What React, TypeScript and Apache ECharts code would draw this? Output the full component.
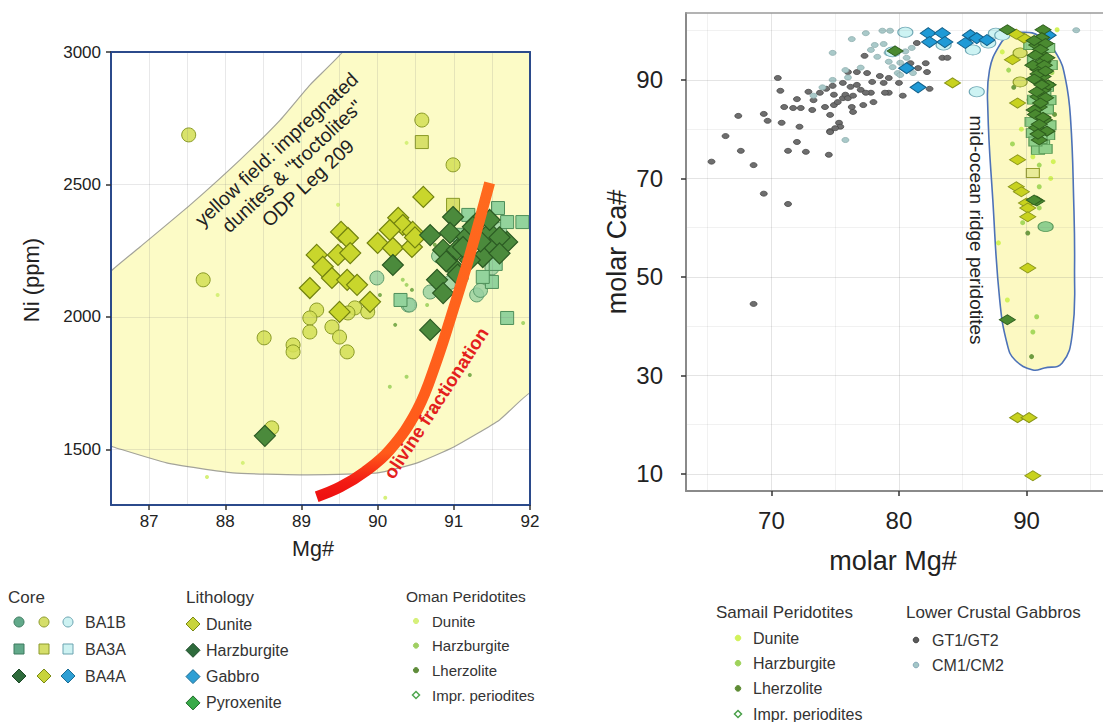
import React, { useEffect, useRef } from 'react';
import * as echarts from 'echarts';

// ---------------- LEFT PANEL DATA (Mg# vs Ni ppm) ----------------
const L_X_TICKS = [87, 88, 89, 90, 91, 92];
const L_Y_TICKS = [1500, 2000, 2500, 3000];
const L_X_GRID = [87, 87.5, 88, 88.5, 89, 89.5, 90, 90.5, 91, 91.5];
const L_Y_GRID = [1500, 2000, 2500];

// yellow field (impregnated dunites & troctolites, ODP Leg 209)
const L_FIELD = [
  [86.3, 2100], [86.5, 2173], [86.88, 2264], [87.54, 2423], [88.19, 2592], [88.72, 2743], [89.11, 2875],
  [89.54, 3000], [89.6, 3060], [92.2, 3060], [92.2, 1680], [92.0, 1713], [91.6, 1611], [91.0, 1509],
  [90.52, 1449], [90.0, 1411], [88.98, 1404], [88.1, 1411], [87.23, 1449], [86.53, 1509], [86.3, 1530],
];

// olivine fractionation curve
const OL_X = [89.2, 89.51, 89.83, 90.16, 90.52, 90.78, 90.99, 91.21, 91.47];
const OL_Y = [1321, 1358, 1415, 1498, 1649, 1838, 2026, 2234, 2506];

// BA4A diamonds
const L_DUNITE_DIAMOND = [
  [89.52, 2321], [89.61, 2298], [89.2, 2234], [89.48, 2234], [89.64, 2241], [89.28, 2189], [89.4, 2147],
  [89.6, 2140], [89.73, 2121], [89.11, 2109], [89.5, 2019], [89.9, 2057], [90.0, 2279], [90.2, 2260],
  [90.27, 2374], [90.33, 2347], [90.16, 2328], [90.46, 2321], [90.45, 2264], [90.6, 2453], [90.49, 2300],
];
const L_HARZ_DIAMOND = [
  [90.2, 2196], [90.69, 2309], [90.99, 2377], [90.95, 2317], [90.86, 2253], [91.04, 2253], [91.17, 2302],
  [90.99, 2189], [90.78, 2140], [90.86, 2090], [90.69, 1951], [91.47, 2317], [91.7, 2283], [91.51, 2264],
  [91.38, 2226], [91.21, 2215], [91.12, 2264], [91.3, 2355], [91.47, 2366], [88.52, 1551], [91.6, 2300],
  [91.25, 2340], [90.9, 2210], [91.6, 2240], [91.05, 2160], [91.35, 2285],
];
// BA1B circles
const L_DUNITE_CIRCLE = [
  [87.52, 2687], [87.71, 2140], [88.51, 1921], [88.89, 1894], [88.89, 1868], [88.61, 1581], [90.58, 2743],
  [90.99, 2574], [89.2, 2026], [89.11, 1996], [89.11, 1943], [89.4, 1962], [89.5, 1924], [89.6, 1868],
  [89.7, 2034], [89.61, 2015], [89.87, 2019],
];
const L_HARZ_CIRCLE = [
  [89.99, 2147], [90.4, 2045], [91.3, 2083], [90.69, 2094], [91.5, 2185], [90.42, 2045], [91.1, 2150],
  [90.95, 2130], [91.35, 2100], [91.6, 2330], [90.8, 2230],
];
// BA3A squares
const L_DUNITE_SQUARE = [[90.58, 2660], [90.99, 2423]];
const L_HARZ_SQUARE = [
  [91.58, 2411], [91.7, 2358], [91.9, 2358], [91.19, 2385], [91.5, 2132], [91.38, 2151], [91.7, 1996],
  [90.3, 2064], [91.05, 2310], [91.35, 2290], [91.55, 2200],
];
// Oman peridotites (small dots)
const L_OMAN_DUN = [[87.9, 2083], [88.23, 1449], [87.76, 1396], [90.38, 2657], [89.48, 2423], [90.1, 1317]];
const L_OMAN_HZ = [[90.16, 1736], [90.38, 1774], [90.73, 1649], [90.33, 2140], [90.38, 2121], [90.65, 2045], [91.91, 1977]];
const L_OMAN_LHZ = [[91.21, 1781], [90.03, 2083], [90.23, 1970], [90.45, 2102], [90.75, 2272]];

// ---------------- RIGHT PANEL DATA (molar Mg# vs molar Ca#) ----------------
const R_X_TICKS = [70, 80, 90];
const R_Y_TICKS = [10, 30, 50, 70, 90];
const R_X_GRID_MAJOR = [70, 80, 90];
const R_X_GRID_MINOR = [65, 75, 85, 95];
const R_Y_GRID_MAJOR = [10, 30, 50, 70, 90];
const R_Y_GRID_MINOR = [20, 40, 60, 80, 100];

const R_FIELD = [
  [89.7, 99.7], [91.0, 98.9], [92.4, 95.1], [93.07, 90.0], [93.46, 81.9], [93.7, 65.6], [93.77, 52.0],
  [93.6, 38.6], [92.8, 32.5], [91.4, 31.5], [90.5, 31.1], [89.1, 33.1], [88.5, 36.2], [87.9, 45.3],
  [87.36, 65.6], [86.97, 83.9], [87.1, 92.0], [87.9, 97.1], [88.7, 99.1],
];

const R_GT = [
  [70.5, 90.4], [70.7, 87.8], [67.4, 82.7], [66.4, 78.6], [65.3, 73.4], [67.6, 75.6], [68.6, 72.7], [69.4, 83.1],
  [69.7, 81.7], [69.4, 66.9], [71.3, 64.8], [71.3, 75.6], [72.7, 75.4], [70.8, 81.3], [72.2, 80.5], [71.0, 84.5],
  [71.7, 84.3], [72.3, 84.3], [72.0, 86.1], [72.9, 87.6], [73.2, 83.9], [72.0, 77.4], [74.5, 74.8], [74.6, 79.6],
  [75.3, 81.3], [74.6, 82.9], [74.2, 84.5], [74.9, 84.9], [73.8, 87.4], [74.3, 88.2], [74.8, 88.8], [75.6, 86.3],
  [75.2, 85.5], [75.8, 87.0], [76.0, 86.3], [76.3, 84.5], [76.4, 83.5], [75.6, 89.4], [76.2, 88.6], [76.7, 89.0],
  [77.0, 88.0], [77.2, 84.9], [78.0, 85.5], [77.8, 87.4], [77.9, 89.6], [78.5, 90.8], [78.8, 89.4], [79.2, 90.4],
  [79.2, 87.4], [80.0, 89.4], [80.3, 86.8], [77.3, 94.9], [74.6, 79.4], [75.4, 80.5], [76.4, 86.8], [76.7, 91.6],
  [76.0, 91.6], [77.5, 91.4], [73.3, 85.9], [74.9, 87.0], [81.4, 97.5], [82.2, 91.6], [82.4, 88.2], [83.4, 94.5],
  [83.8, 94.5], [81.5, 92.4], [80.9, 93.4], [82.1, 93.4], [78.9, 87.4], [77.4, 87.4], [68.6, 44.5], [75.0, 80.2],
];
const R_CM = [
  [74.8, 95.5], [76.3, 98.3], [77.4, 99.5], [78.7, 100], [79.3, 100], [77.8, 96.1], [78.1, 97.1], [78.8, 97.3],
  [75.8, 92.0], [74.8, 90.0], [73.3, 86.8], [75.8, 77.8], [79.2, 93.7], [78.3, 94.7], [79.5, 92.6], [79.9, 91.4],
  [80.1, 93.5], [79.1, 95.5], [80.6, 94.5], [80.1, 91.0], [81.1, 91.4], [93.9, 100.1], [76.0, 90.5], [77.0, 92.5],
  [74.0, 88.5], [80.5, 95.8], [81.0, 96.5],
];
const R_BLUE_DIAMOND = [
  [82.3, 99.5], [83.4, 99.5], [82.4, 97.7], [83.6, 97.7], [80.6, 92.4], [81.5, 88.5], [85.6, 99.1], [86.1, 98.5],
  [86.9, 98.1], [91.7, 99.1], [85.2, 97.5],
];
const R_CYAN_CIRCLE = [
  [80.5, 99.7], [79.5, 95.7], [83.5, 97.1], [85.8, 96.1], [86.1, 87.6], [87.0, 97.5], [87.6, 99.5], [88.1, 99.1],
];
const R_YELLOW_CIRCLE = [[89.5, 89.6], [89.5, 95.5]];
const R_YELLOW_SQUARE = [[90.5, 71.1]];
const R_GREEN_CIRCLE = [[91.5, 60.2]];
const R_YELLOW_DIAMOND = [
  [84.2, 89.4], [88.9, 94.1], [89.3, 85.3], [89.3, 73.8], [89.2, 68.3], [89.6, 67.3], [90.0, 65.0], [90.1, 64.0],
  [90.1, 62.2], [90.1, 51.8], [89.3, 21.4], [90.2, 21.4], [90.5, 9.6], [89.8, 98.5], [89.2, 99.3],
];
const R_DARK_DIAMOND = [
  [79.7, 95.9], [88.5, 100.2], [91.3, 100.2], [90.8, 65.4], [88.5, 41.3], [90.6, 65.6],
  [90.8, 97.1], [91.0, 95.5], [91.3, 93.7], [90.9, 92.1], [91.3, 90.7], [91.0, 89.6], [91.3, 88.0], [90.9, 86.6],
  [91.0, 84.5], [90.8, 80.3], [91.0, 77.8], [91.6, 94.5], [90.5, 93.0], [91.7, 89.0], [90.6, 83.9], [91.4, 81.9],
  [91.2, 98.6], [90.6, 98.0], [91.5, 97.4], [91.1, 96.2], [90.7, 95.0], [91.4, 93.0], [90.9, 91.2], [91.5, 91.8],
  [90.6, 90.2], [91.2, 89.0], [90.8, 87.6], [91.5, 86.4], [91.1, 85.3], [90.7, 83.0], [91.3, 82.4], [91.0, 81.0],
  [91.6, 79.6], [90.9, 79.0],
];
const R_GREEN_SQUARE = [
  [90.8, 83.3], [91.0, 81.9], [91.3, 80.5], [90.5, 79.2], [91.3, 76.8], [91.2, 85.5], [91.4, 87.4], [90.9, 75.8],
  [91.7, 78.8], [91.8, 85.9], [90.6, 94.1], [90.3, 97.1], [91.6, 88.6], [90.6, 86.0], [91.6, 84.0], [90.4, 81.5],
  [91.8, 80.8], [91.1, 78.0], [91.5, 76.0], [90.7, 77.5], [91.9, 93.0], [91.7, 96.5],
];
const R_SAMAIL_DUN = [[90.5, 74.4], [92.1, 73.4], [87.8, 56.9], [88.5, 45.3], [92.4, 100.2], [88.1, 95.7], [89.6, 80.0], [91.9, 70.0]];
const R_SAMAIL_HZ = [[91.0, 72.7], [91.0, 68.3], [89.7, 61.0], [90.8, 41.9], [90.5, 38.8], [91.0, 64.0], [88.6, 92.0], [92.0, 91.5], [88.9, 77.0]];
const R_SAMAIL_LHZ = [[90.4, 33.8], [90.1, 58.9], [89.0, 88.5], [91.8, 96.0], [90.2, 86.0], [92.2, 83.0]];

const FONT = '"Liberation Sans", Arial, Helvetica, sans-serif';

function gridLines(x: number[], y: number[], color: string, xi: number, yi: number, z: number) {
  return {
    type: 'scatter', xAxisIndex: xi, yAxisIndex: yi, data: [], z, silent: true,
    markLine: {
      silent: true, symbol: ['none', 'none'], label: { show: false },
      lineStyle: { color, width: 1, type: 'solid' },
      emphasis: { disabled: true },
      data: [...x.map((v) => ({ xAxis: v })), ...y.map((v) => ({ yAxis: v }))],
    },
  };
}

function sc(data: number[][], symbol: string, size: any, fill: string, stroke: string, xi: number, z: number, lw = 1) {
  return {
    type: 'scatter', xAxisIndex: xi, yAxisIndex: xi, data, symbol, symbolSize: size, z,
    itemStyle: { color: fill, borderColor: stroke, borderWidth: lw, opacity: 1 },
    silent: true,
  };
}

function diamondPts(cx: number, cy: number, w: number, h: number) {
  return [[cx, cy - h / 2], [cx + w / 2, cy], [cx, cy + h / 2], [cx - w / 2, cy]];
}

function legendGraphics() {
  const g: any[] = [];
  const txt = (x: number, y: number, t: string, size: number) =>
    g.push({ type: 'text', x, y, z: 20, style: { text: t, fill: '#333', fontSize: size, fontFamily: FONT, align: 'left', verticalAlign: 'middle' } });
  const circ = (x: number, y: number, r: number, fill: string, stroke: string) =>
    g.push({ type: 'circle', z: 20, shape: { cx: x, cy: y, r }, style: { fill, stroke, lineWidth: 1 } });
  const sq = (x: number, y: number, s: number, fill: string, stroke: string) =>
    g.push({ type: 'rect', z: 20, shape: { x: x - s / 2, y: y - s / 2, width: s, height: s }, style: { fill, stroke, lineWidth: 1 } });
  const dia = (x: number, y: number, s: number, fill: string, stroke: string, lw = 1) =>
    g.push({ type: 'polygon', z: 20, shape: { points: diamondPts(x, y, s, s) }, style: { fill, stroke, lineWidth: lw } });

  // Core
  txt(8, 597, 'Core', 17);
  const cols = [19, 44, 68];
  const cFill = ['#62a98a', '#d5de6a', '#cdf2f2'];
  const cStroke = ['#3d7a5f', '#8c9a2c', '#6aa3b0'];
  const dFill = ['#2e6b3c', '#c8d43c', '#2e9fd4'];
  const dStroke = ['#1d4a28', '#7a8a14', '#1a6d94'];
  cols.forEach((x, i) => {
    circ(x, 622, 5, cFill[i], cStroke[i]);
    sq(x, 649, 10, cFill[i], cStroke[i]);
    dia(x, 676, 14, dFill[i], dStroke[i]);
  });
  txt(85, 622, 'BA1B', 16);
  txt(85, 649, 'BA3A', 16);
  txt(85, 676, 'BA4A', 16);

  // Lithology
  txt(186, 597, 'Lithology', 17);
  const lith = [['Dunite', '#c8d43c', '#7a8a14'], ['Harzburgite', '#2e6b3c', '#1d4a28'], ['Gabbro', '#2e9fd4', '#1a6d94'], ['Pyroxenite', '#3aab4a', '#1f6a2a']];
  lith.forEach((l, i) => {
    const y = 624 + i * 26.3;
    dia(193, y, 14, l[1], l[2]);
    txt(206, y, l[0], 16);
  });

  // Oman peridotites
  txt(406, 596, 'Oman Peridotites', 15.5);
  const om = [['Dunite', '#d6f07a'], ['Harzburgite', '#9fcf62'], ['Lherzolite', '#5f8c3a']];
  om.forEach((o, i) => {
    const y = 621 + i * 24.6;
    circ(416, y, 2.6, o[1], o[1]);
    txt(432, y, o[0], 15);
  });
  dia(416, 695, 7, '#ffffff', '#4fa64f', 1.5);
  txt(432, 695, 'Impr. periodites', 15);

  // Samail peridotites
  txt(716, 612, 'Samail Peridotites', 17);
  const sm = [['Dunite', '#d2f25a'], ['Harzburgite', '#9ed25a'], ['Lherzolite', '#5e8c34']];
  sm.forEach((o, i) => {
    const y = 638 + i * 25.2;
    circ(738, y, 2.8, o[1], o[1]);
    txt(753, y, o[0], 16);
  });
  dia(738, 714, 7, '#ffffff', '#4aa04a', 1.5);
  txt(753, 714, 'Impr. periodites', 16);

  // Lower crustal gabbros
  txt(906, 612, 'Lower Crustal Gabbros', 17);
  circ(916, 640, 2.8, '#5a5a5a', '#444');
  txt(932, 640, 'GT1/GT2', 16);
  circ(916, 665, 2.8, '#a3c6c6', '#8ab');
  txt(932, 665, 'CM1/CM2', 16);
  return g;
}

function buildOption() {
  const frame = { show: true, onZero: false, lineStyle: { color: '#2b4a8b', width: 2 } };
  const lbl = { color: '#222', fontFamily: FONT, formatter: (v: number) => String(v) };
  return {
    animation: false,
    textStyle: { fontFamily: FONT },
    grid: [
      { left: 111, top: 52, width: 419, height: 453 },
      { left: 686, top: 13, width: 419, height: 478 },
    ],
    xAxis: [
      {
        type: 'value', gridIndex: 0, min: 86.5, max: 92, position: 'bottom', z: 10,
        axisLine: frame,
        axisTick: { show: true, customValues: L_X_TICKS, length: 5, lineStyle: { color: '#333', width: 1.5 } },
        axisLabel: { customValues: L_X_TICKS, fontSize: 17, margin: 8, ...lbl },
        splitLine: { show: false },
      },
      { type: 'value', gridIndex: 0, min: 86.5, max: 92, position: 'top', z: 10, axisLine: frame, axisTick: { show: false }, axisLabel: { show: false }, splitLine: { show: false } },
      {
        type: 'value', gridIndex: 1, min: 63.3, max: 96, position: 'bottom', z: 10,
        axisLine: { show: true, onZero: false, lineStyle: { color: '#8a8a8a', width: 2 } },
        axisTick: { show: true, customValues: R_X_TICKS, length: 5, lineStyle: { color: '#333', width: 1.5 } },
        axisLabel: { customValues: R_X_TICKS, fontSize: 24, margin: 17, ...lbl },
        splitLine: { show: false },
      },
      { type: 'value', gridIndex: 1, min: 63.3, max: 96, position: 'top', z: 10, axisLine: { show: true, onZero: false, lineStyle: { color: '#9a9a9a', width: 1.5 } }, axisTick: { show: false }, axisLabel: { show: false }, splitLine: { show: false } },
    ],
    yAxis: [
      {
        type: 'value', gridIndex: 0, min: 1290, max: 3000, position: 'left', z: 10,
        axisLine: frame,
        axisTick: { show: true, customValues: L_Y_TICKS, length: 5, lineStyle: { color: '#333', width: 1.5 } },
        axisLabel: { customValues: L_Y_TICKS, fontSize: 17, margin: 10, ...lbl },
        splitLine: { show: false },
      },
      { type: 'value', gridIndex: 0, min: 1290, max: 3000, position: 'right', z: 10, axisLine: frame, axisTick: { show: false }, axisLabel: { show: false }, splitLine: { show: false } },
      {
        type: 'value', gridIndex: 1, min: 6.5, max: 103.6, position: 'left', z: 10,
        axisLine: { show: true, onZero: false, lineStyle: { color: '#8a8a8a', width: 2 } },
        axisTick: { show: true, customValues: R_Y_TICKS, length: 5, lineStyle: { color: '#333', width: 1.5 } },
        axisLabel: { customValues: R_Y_TICKS, fontSize: 24, margin: 23, ...lbl },
        splitLine: { show: false },
      },
    ],
    series: [
      // ---- left panel ----
      {
        type: 'custom', xAxisIndex: 0, yAxisIndex: 0, data: [[88, 2000]], z: 1, clip: true, silent: true,
        renderItem: (_p: any, api: any) => ({
          type: 'polygon',
          shape: { points: L_FIELD.map((p) => api.coord(p)), smooth: 0.15 },
          style: { fill: '#fcfbc6', stroke: '#a3a39a', lineWidth: 1.2 },
        }),
      },
      gridLines(L_X_GRID, L_Y_GRID, 'rgba(110,110,120,0.16)', 0, 0, 2),
      sc(L_OMAN_DUN, 'circle', 4, '#d6f07a', '#d6f07a', 0, 3, 0),
      sc(L_OMAN_HZ, 'circle', 4, '#a9d66a', '#a9d66a', 0, 3, 0),
      sc(L_OMAN_LHZ, 'circle', 4, '#7fae50', '#7fae50', 0, 3, 0),
      sc(L_DUNITE_CIRCLE, 'circle', 14, 'rgba(212,223,88,0.88)', '#8a9a26', 0, 4),
      sc(L_HARZ_CIRCLE, 'circle', 14, 'rgba(150,208,160,0.82)', '#5c9a6a', 0, 4),
      sc(L_DUNITE_SQUARE, 'rect', 13, '#d8e06a', '#8a9a26', 0, 4),
      sc(L_HARZ_SQUARE, 'rect', 13, '#93d39c', '#4f8f5a', 0, 4),
      sc(L_DUNITE_DIAMOND, 'diamond', 21, '#c9d62c', '#72820f', 0, 5, 1.2),
      sc(L_HARZ_DIAMOND, 'diamond', 21, '#4b8a3c', '#2b5a23', 0, 5, 1.2),
      {
        type: 'line', xAxisIndex: 0, yAxisIndex: 0, z: 6, silent: true,
        data: OL_X.map((x, i) => [x, OL_Y[i]]), smooth: 0.4, symbol: 'none',
        lineStyle: {
          width: 11, cap: 'butt',
          color: new echarts.graphic.LinearGradient(0, 0, 0, 1, [
            { offset: 0, color: '#ff6a1e' }, { offset: 0.86, color: '#ff5a1a' }, { offset: 0.95, color: '#f31c14' }, { offset: 1, color: '#ee1010' },
          ]),
        },
      },
      // ---- right panel ----
      {
        type: 'custom', xAxisIndex: 2, yAxisIndex: 2, data: [[90, 50]], z: 1, clip: true, silent: true,
        renderItem: (_p: any, api: any) => ({
          type: 'polygon',
          shape: { points: R_FIELD.map((p) => api.coord(p)), smooth: 0.45 },
          style: { fill: '#fcf9c2', stroke: '#4d72b8', lineWidth: 1.6 },
        }),
      },
      gridLines(R_X_GRID_MAJOR, R_Y_GRID_MAJOR, 'rgba(120,120,120,0.2)', 2, 2, 2),
      gridLines(R_X_GRID_MINOR, R_Y_GRID_MINOR, 'rgba(120,120,120,0.1)', 2, 2, 2),
      sc(R_GT, 'circle', [7, 5], '#6e6e6e', '#4a4a4a', 2, 3, 0.8),
      sc(R_CM, 'circle', [7, 5], '#a9c9c9', '#8fb0b0', 2, 3, 0.8),
      sc(R_SAMAIL_DUN, 'circle', 5, '#d2f25a', '#d2f25a', 2, 3, 0),
      sc(R_SAMAIL_HZ, 'circle', 5, '#a6d85e', '#a6d85e', 2, 3, 0),
      sc(R_SAMAIL_LHZ, 'circle', 5, '#6e9c40', '#6e9c40', 2, 3, 0),
      sc(R_CYAN_CIRCLE, 'circle', [15, 10], '#cdf3f3', '#6fa8b5', 2, 4),
      sc(R_YELLOW_CIRCLE, 'circle', [14, 10], '#d9e06a', '#8a9a26', 2, 4),
      sc(R_GREEN_CIRCLE, 'circle', [15, 10], '#8fcf8f', '#5a9a5a', 2, 4),
      sc(R_YELLOW_SQUARE, 'rect', [13, 9], '#e8eb98', '#9aa030', 2, 4),
      sc(R_GREEN_SQUARE, 'rect', [13, 9], '#8fd08a', '#5a9a56', 2, 4),
      sc(R_BLUE_DIAMOND, 'diamond', [16, 11], '#1f9ad6', '#12608a', 2, 5),
      sc(R_YELLOW_DIAMOND, 'diamond', [16, 10], '#c8d21e', '#8a961a', 2, 5),
      sc(R_DARK_DIAMOND, 'diamond', [16, 10], '#4a8a30', '#2e5e1e', 2, 5),
    ],
    graphic: [
      { type: 'text', x: 31, y: 280, rotation: Math.PI / 2, z: 20, style: { text: 'Ni (ppm)', fill: '#222', fontSize: 22, fontFamily: FONT, align: 'center', verticalAlign: 'middle' } },
      { type: 'text', x: 313, y: 549, z: 20, style: { text: 'Mg#', fill: '#222', fontSize: 21.5, fontFamily: FONT, align: 'center', verticalAlign: 'middle' } },
      { type: 'text', x: 617, y: 252, rotation: Math.PI / 2, z: 20, style: { text: 'molar Ca#', fill: '#222', fontSize: 27, fontFamily: FONT, align: 'center', verticalAlign: 'middle' } },
      { type: 'text', x: 893, y: 561, z: 20, style: { text: 'molar Mg#', fill: '#222', fontSize: 27, fontFamily: FONT, align: 'center', verticalAlign: 'middle' } },
      {
        type: 'text', x: 292, y: 166, rotation: (43 * Math.PI) / 180, z: 20,
        style: { text: 'yellow field: impregnated\ndunites & "troctolites"\nODP Leg 209', fill: '#222', fontSize: 19.5, lineHeight: 23, fontFamily: FONT, align: 'center', verticalAlign: 'middle' },
      },
      {
        type: 'text', x: 436, y: 403, rotation: (57 * Math.PI) / 180, z: 20,
        style: { text: 'olivine fractionation', fill: '#e4201c', fontSize: 18.5, fontWeight: 'bold', fontFamily: FONT, align: 'center', verticalAlign: 'middle' },
      },
      {
        type: 'text', x: 976, y: 230, rotation: -Math.PI / 2, z: 20,
        style: { text: 'mid-ocean ridge peridotites', fill: '#222', fontSize: 19, fontFamily: FONT, align: 'center', verticalAlign: 'middle' },
      },
      ...legendGraphics(),
    ],
  };
}

export default function App() {
  const ref = useRef<HTMLDivElement>(null);
  useEffect(() => {
    if (!ref.current) return;
    const chart = echarts.init(ref.current, null, { renderer: 'svg' });
    chart.setOption(buildOption() as any);
    return () => chart.dispose();
  }, []);
  return (
    <div
      ref={ref}
      style={{ position: 'absolute', left: 0, top: 0, width: 1103, height: 722, background: '#ffffff', overflow: 'hidden' }}
    />
  );
}
